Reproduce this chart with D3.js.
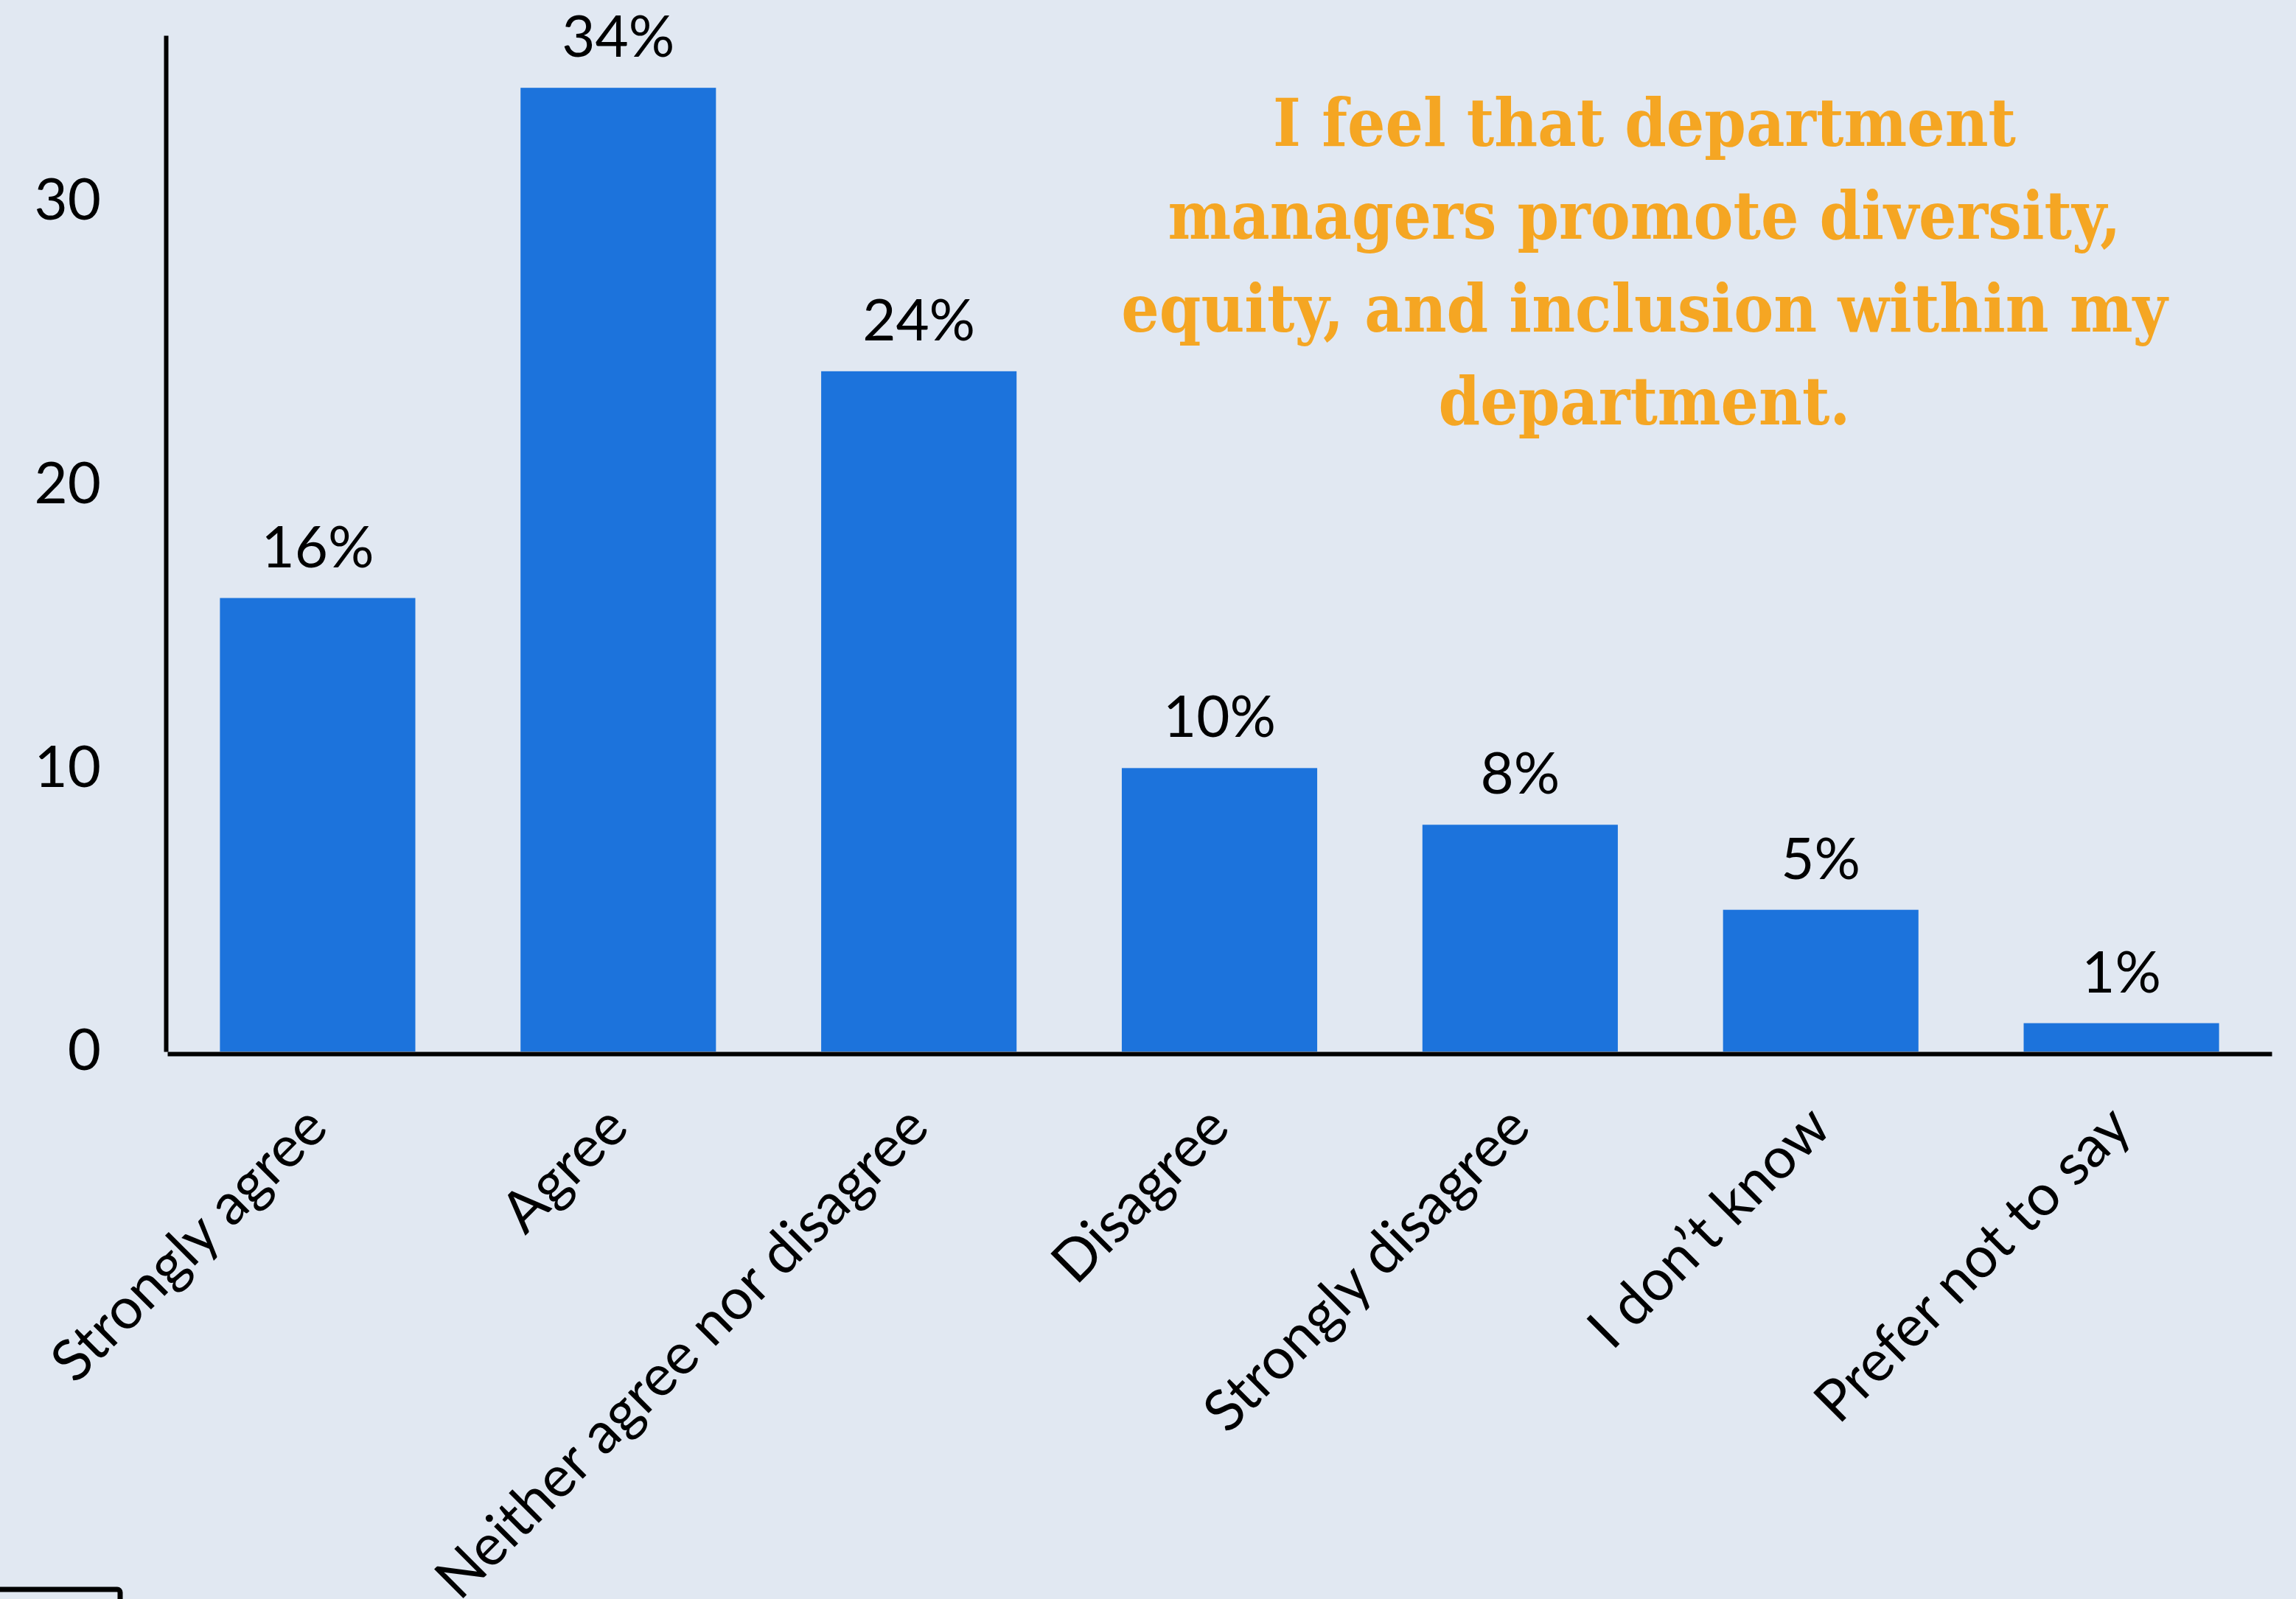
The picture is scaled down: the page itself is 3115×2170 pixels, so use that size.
<!DOCTYPE html>
<html>
<head>
<meta charset="utf-8">
<script src="https://cdn.jsdelivr.net/npm/d3@7"></script>
<style>
  html, body { margin: 0; padding: 0; background: #E1E8F2; }
  svg { display: block; }
</style>
</head>
<body>
<script>
const categories = ["Strongly agree", "Agree", "Neither agree nor disagree", "Disagree", "Strongly disagree", "I don’t know", "Prefer not to say"];
const values = [16, 34, 24, 10, 8, 5, 1];
const yTicks = [0, 10, 20, 30];
const titleLines = ["I feel that department", "managers promote diversity,", "equity, and inclusion within my", "department."];

const W = 3115, H = 2170;
const svg = d3.select("body").append("svg").attr("width", W).attr("height", H);
svg.append("rect").attr("width", W).attr("height", H).attr("fill", "#E1E8F2");

const x = d3.scaleBand().domain(categories).range([227, 3082]).paddingInner(0.35).paddingOuter(0.175);
const y = d3.scaleLinear().domain([0, 35.85]).range([1427, 48]);

// bars
svg.append("g").selectAll("rect").data(values).join("rect")
  .attr("x", (d, i) => x(categories[i]))
  .attr("y", d => y(d))
  .attr("width", x.bandwidth())
  .attr("height", d => y(0) - y(d))
  .attr("fill", "#1C73DC");

// value labels above each bar
svg.append("g").selectAll("text").data(values).join("text")
  .attr("x", (d, i) => x(categories[i]) + x.bandwidth() / 2)
  .attr("y", d => y(d) - 42)
  .attr("text-anchor", "middle")
  .attr("font-family", "Lato")
  .attr("font-size", 78)
  .attr("fill", "#000")
  .text(d => d + "%");

// y axis
const yAxis = svg.append("g").attr("transform", "translate(225,0)")
  .call(d3.axisLeft(y).tickValues(yTicks).tickSize(0).tickSizeOuter(0).tickPadding(88));
yAxis.select(".domain").attr("stroke", "#000").attr("stroke-width", 6);
yAxis.selectAll("text").attr("font-family", "Lato").attr("font-size", 78).attr("fill", "#000");

// x axis with slanted category names
const xAxis = svg.append("g").attr("transform", "translate(0,1430)")
  .call(d3.axisBottom(x).tickSize(0).tickSizeOuter(0));
xAxis.select(".domain").attr("stroke", "#000").attr("stroke-width", 6);
xAxis.selectAll("text")
  .attr("font-family", "Lato").attr("font-size", 78).attr("fill", "#000")
  .attr("x", 0).attr("y", 0).attr("dy", 0)
  .attr("text-anchor", "end")
  .attr("transform", "translate(17,104) rotate(-45)");

// title
const title = svg.append("g")
  .attr("font-family", "'DejaVu Serif Condensed', 'DejaVu Serif', serif")
  .attr("font-weight", "bold")
  .attr("font-size", 90).attr("fill", "#F5A623").attr("text-anchor", "middle");
titleLines.forEach((t, i) => {
  title.append("text").attr("x", 2231).attr("y", 198 + i * 126).text(t);
});

// partial frame at lower left
svg.append("rect").attr("x", -20).attr("y", 2157).attr("width", 183).attr("height", 100)
  .attr("rx", 4).attr("fill", "none").attr("stroke", "#000").attr("stroke-width", 7);
</script>
</body>
</html>
